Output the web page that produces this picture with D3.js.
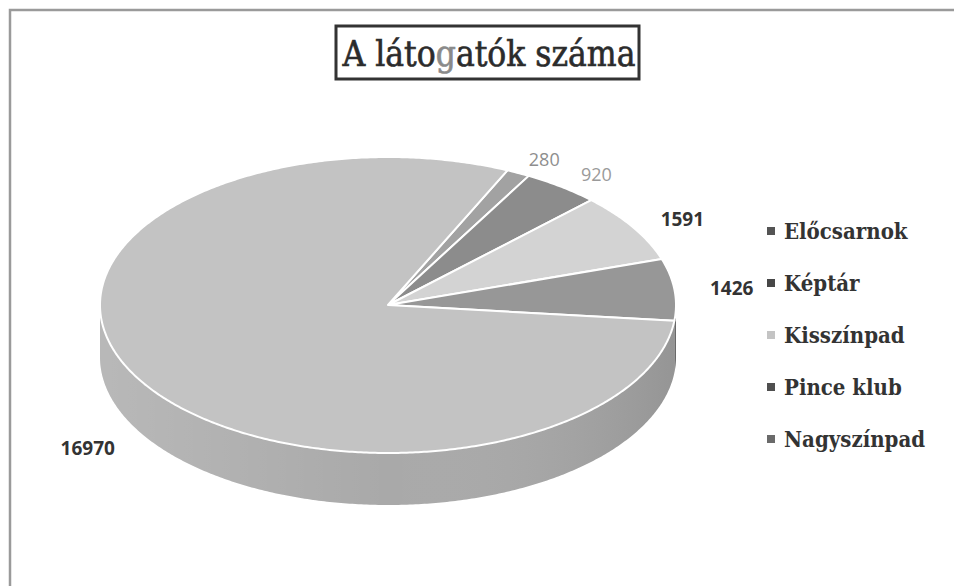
<!DOCTYPE html>
<html>
<head>
<meta charset="utf-8">
<script src="https://cdn.jsdelivr.net/npm/d3@7"></script>
<style>
  body { margin: 0; background: #fff; }
  svg { display: block; }
</style>
</head>
<body>
<svg id="chart" width="954" height="586"></svg>
<script>
// data
var categories = ["Előcsarnok", "Képtár", "Kisszínpad", "Pince klub", "Nagyszínpad"];
var visitors = [280, 920, 1591, 1426, 16970];
var chartTitle = "A látogatók száma";

var svg = d3.select("#chart");
var W = 954, H = 586;

// frame (scan shows only top and left edges)
svg.append("path")
    .attr("d", "M10," + H + "V10H" + W)
    .attr("fill", "none")
    .attr("stroke", "#9a9a9a")
    .attr("stroke-width", 2.5);

// title
var titleG = svg.append("g");
titleG.append("rect")
    .attr("x", 336).attr("y", 26)
    .attr("width", 303).attr("height", 53)
    .attr("fill", "#fff")
    .attr("stroke", "#333")
    .attr("stroke-width", 3);
var tt = titleG.append("text")
    .attr("x", 489).attr("y", 66)
    .attr("text-anchor", "middle")
    .style("font-family", "DejaVu Serif Condensed, DejaVu Serif, serif")
    .style("font-size", "35px")
    .attr("fill", "#2b2b2b")
    .attr("stroke", "#2b2b2b")
    .attr("stroke-width", 0.6);
// the scan left the "g" faded
tt.append("tspan").text(chartTitle.slice(0, 6));
tt.append("tspan").attr("fill", "#8a8a8a").attr("stroke", "#8a8a8a").text(chartTitle.slice(6, 7));
tt.append("tspan").text(chartTitle.slice(7));

// 3D pie geometry
var cx = 388, cy = 305, rx = 288, ry = 148, depth = 52;
var topColor = d3.scaleOrdinal(categories, ["#a2a2a2", "#8c8c8c", "#d3d3d3", "#979797", "#c3c3c3"]);
var wallColor = d3.scaleOrdinal(categories, ["#7e7e7e", "#6e6e6e", "#a8a8a8", "#777777", "#a9a9a9"]);
var legendColor = d3.scaleOrdinal(categories, ["#545454", "#474747", "#c4c4c4", "#4f4f4f", "#6a6a6a"]);

var data = categories.map(function (c, i) { return { k: c, val: visitors[i] }; });

var pie = d3.pie()
    .sort(null)
    .value(function (d) { return d.val; })
    .startAngle(24.5 * Math.PI / 180)
    .endAngle(24.5 * Math.PI / 180 + 2 * Math.PI);
var arcs = pie(data);

function proj(a, kx, ky, dz) {
    return [cx + rx * kx * Math.sin(a), cy - ry * ky * Math.cos(a) + (dz || 0)];
}
function sample(a0, a1) {
    var n = Math.max(2, Math.ceil(Math.abs(a1 - a0) / 0.01));
    return d3.range(n + 1).map(function (i) { return a0 + (a1 - a0) * i / n; });
}
var line = d3.line();

// side walls (only the front half, angles between pi/2 and 3pi/2 are visible)
var defs = svg.append("defs");
var grad = defs.append("linearGradient")
    .attr("id", "wallShade")
    .attr("gradientUnits", "userSpaceOnUse")
    .attr("x1", cx - rx).attr("x2", cx + rx)
    .attr("y1", 0).attr("y2", 0);
grad.append("stop").attr("offset", "0").attr("stop-color", "#fff").attr("stop-opacity", 0.18);
grad.append("stop").attr("offset", "0.5").attr("stop-color", "#fff").attr("stop-opacity", 0.0);
grad.append("stop").attr("offset", "1").attr("stop-color", "#000").attr("stop-opacity", 0.12);

var walls = svg.append("g");
arcs.forEach(function (d) {
    [0, 2 * Math.PI].forEach(function (off) {
        var lo = Math.max(d.startAngle, Math.PI / 2 + off);
        var hi = Math.min(d.endAngle, 3 * Math.PI / 2 + off);
        if (hi <= lo) return;
        var angs = sample(lo, hi);
        var pts = angs.map(function (a) { return proj(a, 1, 1); })
            .concat(angs.slice().reverse().map(function (a) { return proj(a, 1, 1, depth); }));
        walls.append("path")
            .attr("d", line(pts) + "Z")
            .attr("fill", wallColor(d.data.k));
        walls.append("path")
            .attr("d", line(pts) + "Z")
            .attr("fill", "url(#wallShade)");
    });
});

// top faces
var tops = svg.append("g");
tops.selectAll("path")
    .data(arcs)
    .enter().append("path")
    .attr("d", function (d) {
        var pts = [[cx, cy]].concat(sample(d.startAngle, d.endAngle).map(function (a) { return proj(a, 1, 1); }));
        return line(pts) + "Z";
    })
    .attr("fill", function (d) { return topColor(d.data.k); })
    .attr("stroke", "#fff")
    .attr("stroke-width", 2)
    .attr("stroke-linejoin", "round");

// data labels
var labelFill = d3.scaleOrdinal(categories, ["#8e8e8e", "#9a9a9a", "#333", "#333", "#333"]);
var labelWeight = d3.scaleOrdinal(categories, ["normal", "normal", "bold", "bold", "bold"]);
svg.append("g").selectAll("text")
    .data(arcs)
    .enter().append("text")
    .attr("transform", function (d) {
        var a = (d.startAngle + d.endAngle) / 2;
        var p = proj(a, 1.2, 1.1, Math.cos(a) < 0 ? depth * 1.2 : 0);
        return "translate(" + p[0] + "," + p[1] + ")";
    })
    .attr("text-anchor", "middle")
    .attr("dy", "0.35em")
    .style("font-family", "Open Sans, DejaVu Sans, sans-serif")
    .style("font-size", function (d) { return labelWeight(d.data.k) === "bold" ? "19px" : "18px"; })
    .style("font-weight", function (d) { return labelWeight(d.data.k); })
    .attr("fill", function (d) { return labelFill(d.data.k); })
    .text(function (d) { return d.data.val; });

// legend
var legend = svg.append("g")
    .attr("transform", "translate(767,231)")
    .selectAll("g")
    .data(categories)
    .enter().append("g")
    .attr("transform", function (d, i) { return "translate(0," + i * 52 + ")"; });
legend.append("rect")
    .attr("x", 0).attr("y", -4)
    .attr("width", 8).attr("height", 8)
    .attr("fill", function (d) { return legendColor(d); });
legend.append("text")
    .attr("x", 17)
    .attr("dy", "0.35em")
    .style("font-family", "DejaVu Serif Condensed, DejaVu Serif, serif")
    .style("font-size", "22px")
    .style("font-weight", "bold")
    .attr("fill", "#333")
    .text(function (d) { return d; });
</script>
</body>
</html>
